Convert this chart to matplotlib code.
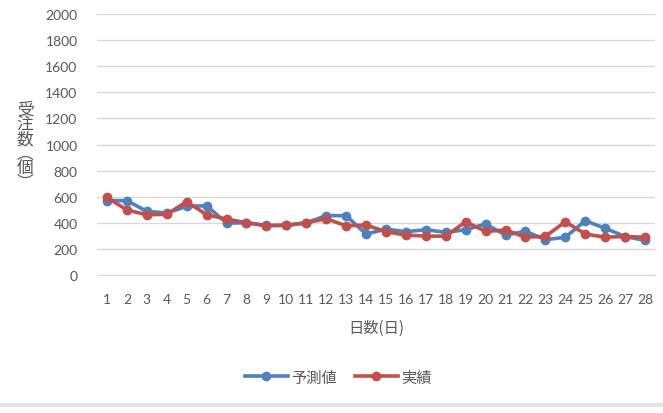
import matplotlib.pyplot as plt
from matplotlib.lines import Line2D

plt.rcParams['font.family'] = ['Noto Sans CJK JP', 'DejaVu Sans']

days = list(range(1, 29))
# 予測値
forecast = [570, 570, 488, 475, 526, 531, 398, 400, 380, 380, 400, 455, 455, 314,
            352, 332, 347, 327, 347, 391, 306, 335, 271, 289, 416, 358, 295, 265]
# 実績
actual = [595, 498, 462, 465, 562, 462, 429, 400, 378, 382, 400, 432, 377, 383,
          332, 306, 298, 298, 408, 334, 345, 290, 296, 408, 314, 290, 295, 289]

blue = '#4F81BD'
red = '#C0504D'
txt = '#595959'
grid = '#D9D9D9'

fig = plt.figure(figsize=(6.63, 4.14), dpi=100)
ax = fig.add_axes([0.1463, 0.3333, 0.8416, 0.6304])

ax.plot(days, forecast, color=blue, lw=2.6, marker='o', ms=6, label='予測値', zorder=3)
ax.plot(days, actual, color=red, lw=2.6, marker='o', ms=6, label='実績', zorder=4)

ax.set_xlim(0.5, 28.5)
ax.set_ylim(0, 2000)
ax.set_yticks(range(0, 2001, 200))
ax.set_xticks(days)
ax.tick_params(length=0, colors=txt, labelsize=10)
ax.tick_params(axis='x', pad=13)
ax.tick_params(axis='y', pad=14)
for lab in ax.get_xticklabels() + ax.get_yticklabels():
    lab.set_family(['Lato', 'DejaVu Sans'])
ax.grid(axis='y', color=grid, lw=1)
ax.set_axisbelow(True)
for s in ['top', 'right', 'left']:
    ax.spines[s].set_visible(False)
ax.spines['bottom'].set_color(grid)

ax.set_xlabel('日数(日)', color=txt, fontsize=11, labelpad=10)
fig.text(0.038, 0.645, '受\n注\n数\n︵\n個\n︶', color=txt, fontsize=12,
         ha='center', va='center', linespacing=0.82, transform=fig.transFigure)

handles = [Line2D([], [], color=blue, lw=2.6, marker='o', ms=6),
           Line2D([], [], color=red, lw=2.6, marker='o', ms=6)]
fig.legend(handles, ['予測値', '実績'], loc='center', bbox_to_anchor=(0.51, 0.087),
           ncol=2, frameon=False, fontsize=11, labelcolor=txt, handlelength=2.8,
           handletextpad=0.2, columnspacing=1.2)

fig.add_artist(Line2D([0, 1], [0.02, 0.02], color='#E3E3E3', lw=3, transform=fig.transFigure))

fig.savefig('out.png', dpi=100)
